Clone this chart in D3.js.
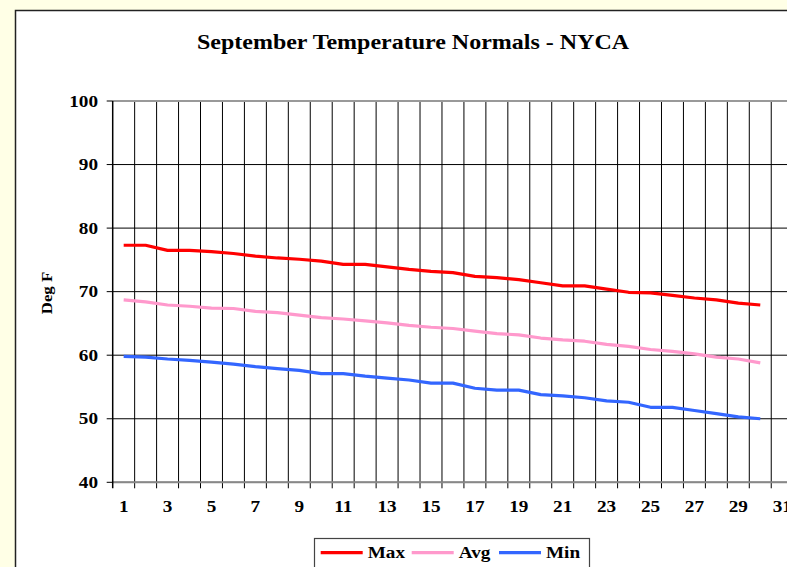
<!DOCTYPE html>
<html>
<head>
<meta charset="utf-8">
<script src="https://cdn.jsdelivr.net/npm/d3@7"></script>
<style>
  body { margin: 0; background: #ffffe6; overflow: hidden; }
  text { font-family: "Liberation Serif", "Times New Roman", serif; font-weight: bold; fill: #000; }
</style>
</head>
<body>
<div id="chart"></div>
<script>
// September daily normals
var days = d3.range(1, 32)
var dayTicks = d3.range(1, 32, 2)
var yTicks = [40, 50, 60, 70, 80, 90, 100]

var maxT = [77.3, 77.3, 76.5, 76.5, 76.3, 76.0, 75.6, 75.3, 75.1, 74.8,
            74.3, 74.3, 73.9, 73.5, 73.2, 73.0, 72.4, 72.2, 71.9, 71.4,
            70.9, 70.9, 70.4, 69.9, 69.8, 69.4, 69.0, 68.7, 68.2, 67.9]
var avgT = [68.7, 68.4, 67.9, 67.7, 67.4, 67.35, 66.9, 66.7, 66.3, 65.9,
            65.7, 65.4, 65.1, 64.7, 64.4, 64.2, 63.8, 63.4, 63.2, 62.7,
            62.4, 62.2, 61.7, 61.4, 60.9, 60.6, 60.2, 59.7, 59.4, 58.8]
var minT = [59.8, 59.7, 59.4, 59.2, 58.9, 58.6, 58.2, 57.9, 57.6, 57.1,
            57.1, 56.7, 56.4, 56.1, 55.6, 55.6, 54.8, 54.5, 54.5, 53.8,
            53.6, 53.3, 52.8, 52.6, 51.8, 51.8, 51.3, 50.8, 50.3, 50.0]

var seriesNames = ['Max', 'Avg', 'Min']
var seriesColors = ['#ff0000', '#ff99cc', '#3366ff']
var seriesData = [maxT, avgT, minT]

var W = 787, H = 567
var plotL = 112.7, plotR = 793.2, plotT = 101, plotB = 482.3

var svg = d3.select('#chart').append('svg')
    .attr('width', W)
    .attr('height', H)

// chart area
svg.append('rect')
    .attr('x', 15.5).attr('y', 10.5)
    .attr('width', 800).attr('height', 600)
    .attr('fill', '#fff')
    .attr('stroke', '#222')
    .attr('stroke-width', 1.5)

var x = d3.scaleBand().domain(days).range([plotL, plotR]).padding(0)
var y = d3.scaleLinear().domain([40, 100]).range([plotB, plotT])
var cx = function (d) { return x(d) + x.bandwidth() / 2 }

// stretched serif text, like the original
function label(g, tx, ty, str, size, anchor) {
    return g.append('text')
        .attr('transform', 'translate(' + tx + ',' + ty + ') scale(1.2,1)')
        .attr('text-anchor', anchor || 'middle')
        .attr('font-size', size)
        .text(str)
}

label(svg, 413, 49, 'September Temperature Normals - NYCA', 20)

// grid
var grid = svg.append('g')
grid.selectAll('line.v')
    .data(days.slice(1))
    .enter().append('line')
    .attr('x1', function (d) { return x(d) })
    .attr('x2', function (d) { return x(d) })
    .attr('y1', plotT).attr('y2', plotB + 6)
    .attr('stroke', '#000')
    .attr('stroke-width', 1)

grid.selectAll('line.h')
    .data(yTicks)
    .enter().append('line')
    .attr('x1', plotL - 6).attr('x2', plotR)
    .attr('y1', function (d) { return y(d) })
    .attr('y2', function (d) { return y(d) })
    .attr('stroke', '#000')
    .attr('stroke-width', 1)

// plot border (gray) + axes
svg.append('line')
    .attr('x1', plotL).attr('x2', plotR).attr('y1', plotT).attr('y2', plotT)
    .attr('stroke', '#999').attr('stroke-width', 2)
svg.append('line')
    .attr('x1', plotL).attr('x2', plotR).attr('y1', plotB).attr('y2', plotB)
    .attr('stroke', '#888').attr('stroke-width', 2)
svg.append('line')
    .attr('x1', plotL).attr('x2', plotL).attr('y1', plotT).attr('y2', plotB + 6)
    .attr('stroke', '#000').attr('stroke-width', 1.5)

// tick labels
yTicks.forEach(function (t) {
    label(svg, 98, y(t) + 5.5, String(t), 16, 'end')
})
dayTicks.forEach(function (d) {
    label(svg, cx(d), 511.5, String(d), 16)
})

svg.append('text')
    .attr('transform', 'translate(52,293) rotate(-90) scale(1.2,1)')
    .attr('text-anchor', 'middle')
    .attr('font-size', 14)
    .text('Deg F')

// series
var line = d3.line()
    .x(function (v, i) { return cx(days[i]) })
    .y(function (v) { return y(v) })

seriesData.forEach(function (s, k) {
    svg.append('path')
        .attr('d', line(s))
        .attr('fill', 'none')
        .attr('stroke', seriesColors[k])
        .attr('stroke-width', 3.2)
        .attr('stroke-linejoin', 'round')
})

// legend
var lg = svg.append('g')
lg.append('rect')
    .attr('x', 314.5).attr('y', 538.5)
    .attr('width', 275).attr('height', 40)
    .attr('fill', '#fff')
    .attr('stroke', '#444')
    .attr('stroke-width', 1.2)

var legendX = [320.7, 411.7, 499]
seriesNames.forEach(function (n, k) {
    lg.append('line')
        .attr('x1', legendX[k]).attr('x2', legendX[k] + 42)
        .attr('y1', 552.7).attr('y2', 552.7)
        .attr('stroke', seriesColors[k])
        .attr('stroke-width', 3.2)
    label(lg, legendX[k] + 47, 558, n, 16, 'start')
})
</script>
</body>
</html>
